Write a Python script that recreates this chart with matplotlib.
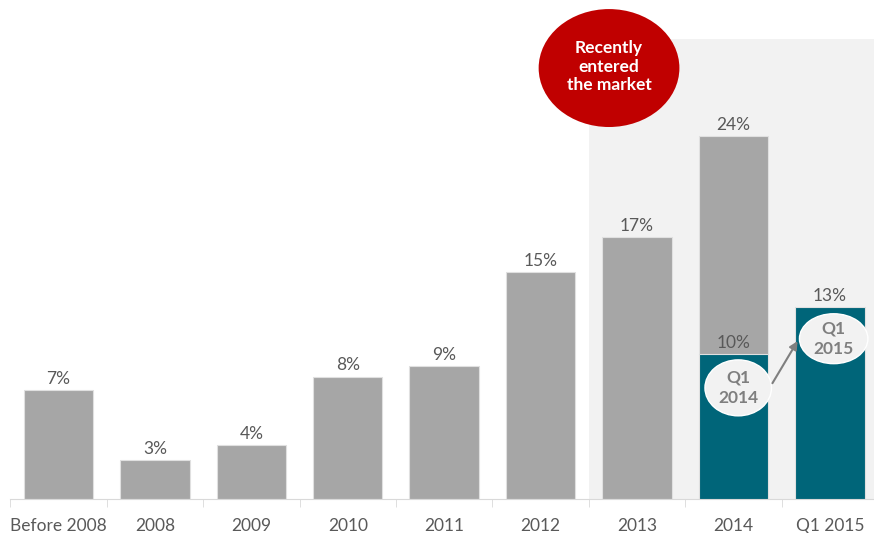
import matplotlib.pyplot as plt
from matplotlib.patches import Ellipse, Rectangle

plt.rcParams['font.family'] = ['Lato', 'DejaVu Sans']

categories = ["Before 2008", "2008", "2009", "2010", "2011", "2012", "2013", "2014", "Q1 2015"]
share = [7.2, 2.6, 3.6, 8.1, 8.8, 15.0, 17.3, 24.0, None]   # % gray bars
q1_share = {"2014": 9.6, "Q1 2015": 12.7}                   # % teal bars

GRAY = "#A6A6A6"
TEAL = "#006579"
TEXT = "#595959"

fig = plt.figure(figsize=(8.74, 5.33), dpi=100)
ax = fig.add_axes([0.0118, 0.0638, 0.9928, 0.9362])
ax.set_xlim(-0.5, len(categories) - 0.5)
ax.set_ylim(0, 33)

# shaded "recent" zone
ax.add_patch(Rectangle((5.5, 0), 3.2, 30.4, facecolor="#F2F2F2", edgecolor="none", zorder=0))

x = list(range(len(categories)))
for i, cat in enumerate(categories):
    v = share[i]
    if v is not None:
        ax.bar(i, v, width=0.72, color=GRAY, edgecolor="#E0E0E0", linewidth=0.8, zorder=2)
        ax.text(i, v + 0.2, "%d%%" % round(v), ha="center", va="bottom",
                fontsize=12.5, color=TEXT, zorder=4)
    if cat in q1_share:
        q = q1_share[cat]
        ax.bar(i, q, width=0.72, color=TEAL, edgecolor="#E0E0E0", linewidth=0.8, zorder=3)
        ax.text(i, q + 0.2, "%d%%" % round(q), ha="center", va="bottom",
                fontsize=12.5, color=TEXT, zorder=4)

# red bubble
ax.add_patch(Ellipse((5.71, 28.5), 1.46, 7.8, facecolor="#C00000", edgecolor="none", zorder=5))
ax.text(5.71, 28.6, "Recently\nentered\nthe market", ha="center", va="center",
        fontsize=12.5, fontweight="bold", color="white", linespacing=1.2, zorder=6)

# quarter bubbles
ax.add_patch(Ellipse((7.05, 7.35), 0.69, 3.7, facecolor="#F2F2F2", edgecolor="white", lw=1, zorder=5))
ax.text(7.05, 7.35, "Q1\n2014", ha="center", va="center", fontsize=12.5, fontweight="bold",
        color="#7F7F7F", linespacing=1.3, zorder=6)
ax.add_patch(Ellipse((8.04, 10.6), 0.71, 3.3, facecolor="#F2F2F2", edgecolor="white", lw=1, zorder=5))
ax.text(8.04, 10.6, "Q1\n2015", ha="center", va="center", fontsize=12.5, fontweight="bold",
        color="#7F7F7F", linespacing=1.3, zorder=6)
ax.annotate("", xy=(7.68, 10.6), xytext=(7.39, 7.5),
            arrowprops=dict(arrowstyle="-|>", color="#7F7F7F", lw=1.5, mutation_scale=12), zorder=6)

# axis
for s in ["top", "right", "left"]:
    ax.spines[s].set_visible(False)
ax.spines["bottom"].set_color("#D9D9D9")
ax.set_yticks([])
ax.set_xticks(x)
ax.set_xticklabels(categories, fontsize=12.5, color=TEXT)
ax.tick_params(axis="x", which="major", length=0, pad=14)
ax.set_xticks([i - 0.5 for i in range(len(categories) + 1)], minor=True)
ax.tick_params(axis="x", which="minor", length=6, color="#D9D9D9")
ax.patch.set_alpha(0)

fig.savefig("out.png", dpi=100)
